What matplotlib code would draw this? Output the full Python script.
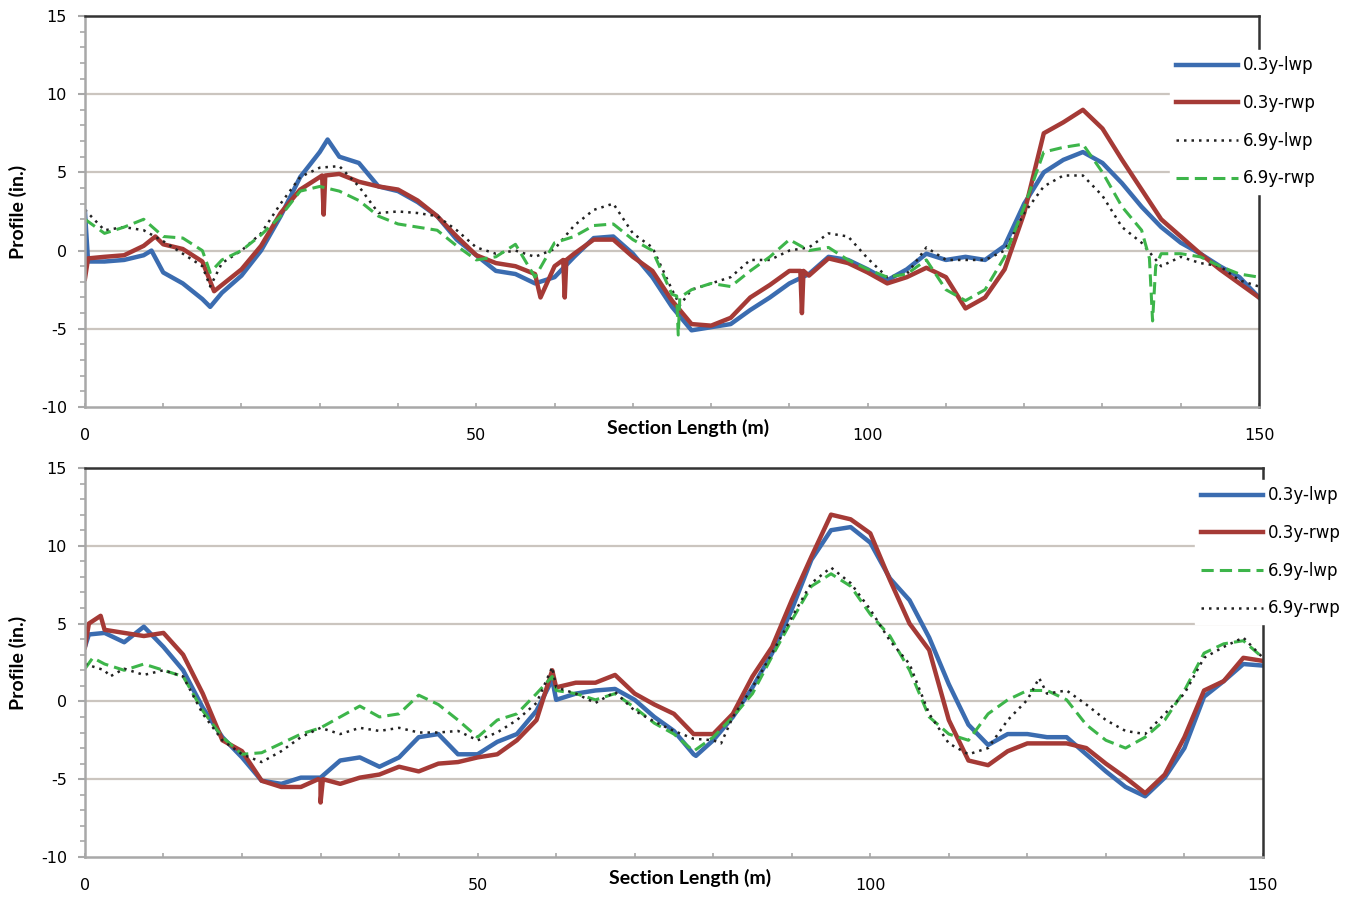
import numpy as np
import matplotlib.pyplot as plt
from matplotlib.ticker import MultipleLocator

plt.rcParams['axes.unicode_minus'] = False
plt.rcParams['font.family'] = ['DejaVu Sans']

# station along the section (m), one reading every 2.5 m
x_grid = np.arange(0, 150.1, 2.5)

# ---- upper section ----
top_lwp_03 = [2.5, -0.7, -0.6, -0.3, -1.4, -2.1, -3.1, -2.7, -1.6, 0.0,
              2.2, 4.7, 6.3, 6.0, 5.6, 4.1, 3.8, 3.1, 2.2, 0.7,
              -0.3, -1.3, -1.5, -2.1, -1.7, -0.4, 0.8, 0.9, -0.2, -1.7,
              -3.6, -5.1, -4.9, -4.7, -3.8, -3.0, -2.1, -1.5, -0.4, -0.6,
              -1.2, -1.9, -1.2, -0.2, -0.6, -0.4, -0.6, 0.3, 3.0, 5.0,
              5.8, 6.3, 5.6, 4.3, 2.8, 1.5, 0.5, -0.2, -1.0, -1.7, -3.0]
top_rwp_03 = [-1.8, -0.4, -0.3, 0.3, 0.4, 0.1, -0.7, -2.2, -1.2, 0.3,
              2.4, 3.9, 4.7, 4.9, 4.4, 4.1, 3.9, 3.2, 2.2, 0.9,
              -0.3, -0.8, -1.0, -1.5, -1.0, -0.2, 0.7, 0.7, -0.4, -1.3,
              -3.2, -4.7, -4.8, -4.3, -3.0, -2.2, -1.3, -1.6, -0.5, -0.8,
              -1.4, -2.1, -1.7, -1.1, -1.7, -3.7, -3.0, -1.2, 2.4, 7.5,
              8.2, 9.0, 7.8, 5.8, 3.9, 2.0, 0.9, -0.2, -1.2, -2.1, -3.0]
top_lwp_69 = [2.6, 1.3, 1.5, 1.3, 0.6, -0.2, -1.0, -0.8, 0.0, 1.1,
              3.0, 4.7, 5.3, 5.4, 4.1, 2.4, 2.5, 2.4, 2.2, 1.3,
              0.2, -0.2, 0.0, -0.4, 0.1, 1.6, 2.6, 3.0, 1.1, 0.2,
              -2.5, -2.5, -2.1, -1.7, -0.6, -0.6, 0.0, 0.2, 1.1, 0.9,
              -0.5, -1.7, -1.5, 0.2, -0.6, -0.6, -0.6, 0.0, 2.4, 4.1,
              4.8, 4.8, 3.5, 1.5, 0.5, -1.0, -0.4, -0.8, -1.0, -1.9, -2.3]
top_rwp_69 = [2.0, 1.1, 1.5, 2.0, 0.9, 0.8, 0.0, -0.6, 0.0, 1.0,
              2.2, 3.8, 4.1, 3.8, 3.2, 2.2, 1.7, 1.5, 1.3, 0.3,
              -0.6, -0.4, 0.4, -1.7, 0.5, 0.9, 1.6, 1.7, 0.7, 0.0,
              -2.8, -2.5, -2.1, -2.3, -1.3, -0.4, 0.7, 0.0, 0.2, -0.6,
              -1.2, -1.7, -1.5, -0.6, -2.5, -3.2, -2.5, -0.4, 2.8, 6.3,
              6.6, 6.8, 5.0, 2.8, 1.3, -0.2, -0.2, -0.4, -1.0, -1.5, -1.7]

# short features between the regular readings (station, value)
top_lwp_03_x, top_lwp_03_y = [0.4, 8.5, 16, 31], [-0.7, 0.0, -3.6, 7.1]
top_rwp_03_x = [0.4, 9, 16.5, 30.3, 30.5, 30.7, 58.2, 61.1, 61.3, 61.5, 91.4, 91.6, 91.8]
top_rwp_03_y = [-0.5, 0.9, -2.6, 4.8, 2.3, 4.8, -3.0, -0.6, -3.0, -0.6, -1.3, -4.0, -1.3]
top_lwp_69_x, top_lwp_69_y = [16, 76], [-2.3, -3.5]
top_rwp_69_x = [16, 75.6, 75.8, 76.0, 136.0, 136.4, 136.8]
top_rwp_69_y = [-1.4, -2.9, -5.4, -3.0, -0.5, -4.5, -1.0]

# ---- lower section ----
bot_lwp_03 = [3.5, 4.4, 3.8, 4.8, 3.5, 2.0, -0.4, -2.3, -3.6, -5.1,
              -5.3, -4.9, -4.9, -3.8, -3.6, -4.2, -3.6, -2.3, -2.1, -3.4,
              -3.4, -2.6, -2.1, -0.6, 0.1, 0.5, 0.7, 0.8, 0.1, -1.0,
              -1.9, -3.4, -2.5, -1.0, 0.9, 3.1, 5.9, 9.1, 11.0, 11.2,
              10.2, 7.9, 6.5, 4.1, 1.1, -1.5, -2.8, -2.1, -2.1, -2.3,
              -2.3, -3.4, -4.5, -5.5, -6.1, -4.9, -3.0, 0.3, 1.3, 2.4, 2.3]
bot_rwp_03 = [3.5, 4.6, 4.4, 4.2, 4.4, 3.0, 0.5, -2.5, -3.2, -5.1,
              -5.5, -5.5, -5.1, -5.3, -4.9, -4.7, -4.2, -4.5, -4.0, -3.9,
              -3.6, -3.4, -2.5, -1.2, 0.9, 1.2, 1.2, 1.7, 0.5, -0.2,
              -0.8, -2.1, -2.1, -0.8, 1.6, 3.5, 6.5, 9.3, 12.0, 11.7,
              10.8, 7.8, 5.0, 3.3, -1.2, -3.8, -4.1, -3.2, -2.7, -2.7,
              -2.7, -3.0, -4.0, -4.9, -5.9, -4.7, -2.3, 0.7, 1.3, 2.8, 2.6]
bot_lwp_69 = [2.1, 2.4, 2.0, 2.4, 2.0, 1.6, -0.6, -2.3, -3.4, -3.3,
              -2.7, -2.1, -1.7, -1.0, -0.3, -1.0, -0.8, 0.4, -0.2, -1.2,
              -2.3, -1.2, -0.8, 0.5, 0.7, 0.5, 0.1, 0.5, -0.4, -1.4,
              -2.1, -3.2, -2.3, -1.0, 0.5, 2.9, 5.2, 7.4, 8.2, 7.4,
              5.6, 4.2, 2.0, -1.0, -2.1, -2.5, -0.8, 0.1, 0.7, 0.7,
              0.1, -1.5, -2.5, -3.0, -2.3, -1.2, 0.7, 3.1, 3.7, 3.9, 2.8]
bot_rwp_69 = [2.4, 2.0, 2.1, 1.7, 2.0, 1.6, -0.8, -2.5, -3.4, -3.9,
              -3.2, -2.3, -1.7, -2.1, -1.7, -1.9, -1.7, -2.0, -2.0, -1.9,
              -2.5, -2.0, -1.2, -0.1, 0.9, 0.5, -0.1, 0.6, -0.6, -1.3,
              -1.9, -2.4, -2.5, -1.0, 0.9, 3.1, 5.4, 7.6, 8.6, 7.6,
              5.9, 3.9, 2.4, -0.8, -2.7, -3.4, -3.0, -1.2, 0.1, 0.5,
              0.7, -0.2, -1.2, -1.9, -2.1, -0.8, 0.5, 2.8, 3.5, 4.1, 2.8]

bot_lwp_03_x, bot_lwp_03_y = [0.5, 59.5, 77.8], [4.3, 1.4, -3.5]
bot_rwp_03_x = [0.5, 2.0, 29.7, 30.0, 30.3, 59.5]
bot_rwp_03_y = [5.0, 5.5, -5.0, -6.5, -5.0, 2.0]
bot_lwp_69_x, bot_lwp_69_y = [1.0, 59.5], [2.8, 1.6]
bot_rwp_69_x, bot_rwp_69_y = [3.2, 59.5, 81.0, 121.5], [1.6, 2.2, -2.7, 1.5]

BLUE = '#3b6cb0'
RED = '#a53a36'
GREEN = '#3db54a'
BLACK = '#222222'


def merged(vals, ex_x, ex_y):
    xs = np.concatenate([x_grid, ex_x])
    ys = np.concatenate([vals, ex_y])
    order = np.argsort(xs, kind='stable')
    return xs[order], ys[order]


def style_axes(ax):
    ax.set_xlim(0, 150)
    ax.set_ylim(-10, 15)
    ax.xaxis.set_major_locator(MultipleLocator(50))
    ax.xaxis.set_minor_locator(MultipleLocator(10))
    ax.yaxis.set_major_locator(MultipleLocator(5))
    ax.yaxis.set_minor_locator(MultipleLocator(1))
    for y in (-5, 0, 5, 10):
        ax.axhline(y, color='#cbc5bf', lw=1.6, zorder=0)
    for side in ('left', 'bottom'):
        ax.spines[side].set_color('#a8a8a8')
        ax.spines[side].set_linewidth(1.8)
    for side in ('top', 'right'):
        ax.spines[side].set_color('#333333')
        ax.spines[side].set_linewidth(1.8)
    ax.tick_params(axis='y', which='major', direction='out', length=5, width=1.5,
                   color='#a8a8a8', labelsize=11.5, pad=8)
    ax.tick_params(axis='y', which='minor', direction='out', length=3.5, width=1.2,
                   color='#a8a8a8')
    ax.tick_params(axis='x', which='both', direction='in', length=3, width=1.2,
                   color='#a8a8a8', labelsize=11.5, pad=15)
    ax.set_xlabel('Section Length (m)', family='Lato', fontweight='bold', fontsize=14)
    ax.xaxis.set_label_coords(0.514, -0.03)
    ax.set_ylabel('Profile (in.)', family='Lato', fontweight='bold', fontsize=14)
    ax.yaxis.set_label_coords(-0.049, 0.5)


fig = plt.figure(figsize=(13.57, 8.97), dpi=100)
ax1 = fig.add_axes([0.0626, 0.5463, 0.8652, 0.4359])
ax2 = fig.add_axes([0.0626, 0.0446, 0.8681, 0.4337])

# upper plot
ax1.plot(*merged(top_lwp_03, top_lwp_03_x, top_lwp_03_y), color=BLUE, lw=3.2, label='0.3y-lwp')
ax1.plot(*merged(top_rwp_03, top_rwp_03_x, top_rwp_03_y), color=RED, lw=3.2, label='0.3y-rwp')
ax1.plot(*merged(top_lwp_69, top_lwp_69_x, top_lwp_69_y), color=BLACK, lw=1.8,
         linestyle=(0, (1, 2)), label='6.9y-lwp')
ax1.plot(*merged(top_rwp_69, top_rwp_69_x, top_rwp_69_y), color=GREEN, lw=2.2,
         linestyle=(0, (4, 2)), label='6.9y-rwp')
style_axes(ax1)

# lower plot
ax2.plot(*merged(bot_lwp_03, bot_lwp_03_x, bot_lwp_03_y), color=BLUE, lw=3.2, label='0.3y-lwp')
ax2.plot(*merged(bot_rwp_03, bot_rwp_03_x, bot_rwp_03_y), color=RED, lw=3.2, label='0.3y-rwp')
ax2.plot(*merged(bot_lwp_69, bot_lwp_69_x, bot_lwp_69_y), color=GREEN, lw=2.2,
         linestyle=(0, (4, 2)), label='6.9y-lwp')
ax2.plot(*merged(bot_rwp_69, bot_rwp_69_x, bot_rwp_69_y), color=BLACK, lw=1.8,
         linestyle=(0, (1, 2)), label='6.9y-rwp')
style_axes(ax2)

for ax, anchor in ((ax1, (0.8559, 0.9538)), (ax2, (0.8743, 0.4745))):
    leg = ax.legend(loc='upper left', bbox_to_anchor=anchor, bbox_transform=fig.transFigure,
                    frameon=True, fancybox=False, fontsize=12, handlelength=3.7,
                    handletextpad=0.3, labelspacing=1.18, borderpad=0.4)
    leg.get_frame().set_facecolor('white')
    leg.get_frame().set_edgecolor('white')
    leg.get_frame().set_alpha(1)
    leg.set_zorder(10)

fig.savefig('out.png', dpi=100)
